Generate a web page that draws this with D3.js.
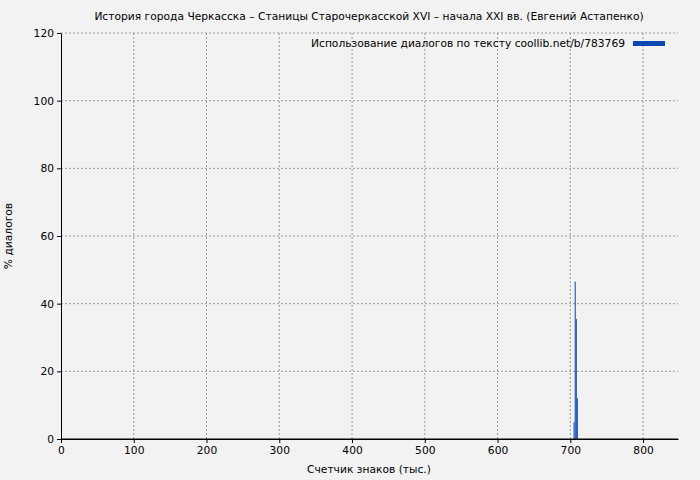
<!DOCTYPE html>
<html>
<head>
<script src="https://d3js.org/d3.v7.min.js"></script>
<style>body{margin:0;background:#f2f2f2}text{font-family:"DejaVu Sans",sans-serif}</style>
</head>
<body>
<svg id="c" width="700" height="480"></svg>
<script>
var xs = [704.5, 706, 707.5, 709];
var vals = [5, 46.5, 35.5, 12];
var xTicks = [0, 100, 200, 300, 400, 500, 600, 700, 800];
var yTicks = [0, 20, 40, 60, 80, 100, 120];

var svg = d3.select("#c");
svg.append("rect").attr("width", 700).attr("height", 480).attr("fill", "#f2f2f2");
var x = d3.scaleLinear().domain([0, 848]).range([61, 678]);
var y = d3.scaleLinear().domain([0, 120]).range([439, 33]);

svg.selectAll(".gx").data(xTicks.slice(1)).enter().append("line")
    .attr("x1", d => x(d)).attr("x2", d => x(d)).attr("y1", 33).attr("y2", 439)
    .attr("stroke", "#999").attr("stroke-dasharray", "2,2");
svg.selectAll(".gy").data(yTicks.slice(1)).enter().append("line")
    .attr("x1", 61).attr("x2", 678).attr("y1", d => y(d)).attr("y2", d => y(d))
    .attr("stroke", "#999").attr("stroke-dasharray", "2,2");

svg.selectAll(".bar").data(vals).enter().append("rect")
    .attr("x", (d, i) => x(xs[i])).attr("width", x(1.4) - x(0))
    .attr("y", d => y(d)).attr("height", d => y(0) - y(d)).attr("fill", "#0a47b0");

svg.append("g").attr("transform", "translate(0,439)")
    .call(d3.axisBottom(x).tickValues(xTicks).tickSize(4).tickSizeOuter(0))
    .call(g => g.selectAll("text").attr("font-size", 10.7).attr("fill", "#000"));
svg.append("g").attr("transform", "translate(61,0)")
    .call(d3.axisLeft(y).tickValues(yTicks).tickSize(4).tickSizeOuter(0))
    .call(g => g.selectAll("text").attr("font-size", 10.7).attr("fill", "#000"));
svg.append("line").attr("x1", 61).attr("x2", 678).attr("y1", 439).attr("y2", 439).attr("stroke", "#000");

svg.append("text").attr("x", 369).attr("y", 20).attr("text-anchor", "middle").attr("font-size", 10.7)
    .text("История города Черкасска – Станицы Старочеркасской XVI – начала XXI вв. (Евгений Астапенко)");
svg.append("text").attr("x", 369).attr("y", 473).attr("text-anchor", "middle").attr("font-size", 10.7)
    .text("Счетчик знаков (тыс.)");
svg.append("text").attr("transform", "translate(12,236) rotate(-90)").attr("text-anchor", "middle").attr("font-size", 10.7)
    .text("% диалогов");
svg.append("text").attr("x", 625).attr("y", 47).attr("text-anchor", "end").attr("font-size", 10.7)
    .text("Использование диалогов по тексту coollib.net/b/783769");
svg.append("rect").attr("x", 633).attr("y", 41).attr("width", 32).attr("height", 5).attr("fill", "#0a47b0");
</script>
</body>
</html>
